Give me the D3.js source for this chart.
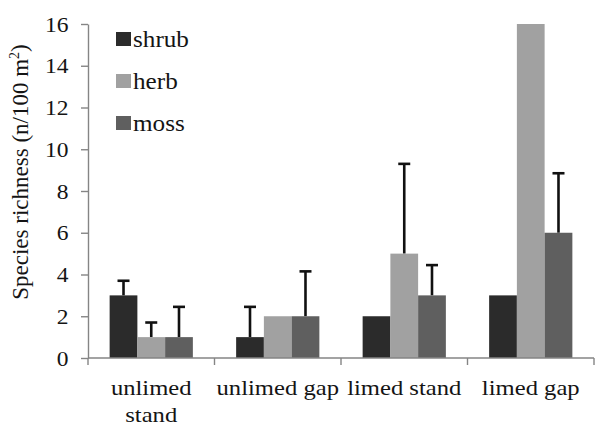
<!DOCTYPE html>
<html>
<head>
<meta charset="utf-8">
<script src="https://cdn.jsdelivr.net/npm/d3@7"></script>
<style>
  html, body { margin: 0; padding: 0; background: #fff; }
  svg { display: block; }
  text { font-family: "Liberation Serif", "Times New Roman", serif; fill: #141414; }
</style>
</head>
<body>
<svg id="chart" width="595" height="423"></svg>
<script>
// ---- data ----
const categories = ["unlimed stand", "unlimed gap", "limed stand", "limed gap"];
const series = ["shrub", "herb", "moss"];
const shrubValues = [3, 1, 2, 3];
const herbValues = [1, 2, 5, 16];
const mossValues = [1, 2, 3, 6];
const shrubErrTop = [3.7, 2.45, null, null];
const herbErrTop = [1.7, null, 9.3, null];
const mossErrTop = [2.45, 4.15, 4.45, 8.85];
const yTicks = [0, 2, 4, 6, 8, 10, 12, 14, 16];
const yLabel = "Species richness (n/100 m";

// ---- layout ----
const plot = { left: 88, right: 594, top: 24, bottom: 358 };
const colors = { shrub: "#2b2b2b", herb: "#a1a1a1", moss: "#5f5f5f" };
const SX = 1.12; // horizontal stretch of the reference typography

const values = { shrub: shrubValues, herb: herbValues, moss: mossValues };
const errs = { shrub: shrubErrTop, herb: herbErrTop, moss: mossErrTop };

const svg = d3.select("#chart");

const x0 = d3.scaleBand().domain(categories).range([plot.left, plot.right]).paddingInner(0).paddingOuter(0);
const x1 = d3.scaleBand().domain(series).range([0, x0.bandwidth()]).paddingInner(0).paddingOuter(0.78);
const y = d3.scaleLinear().domain([0, 16]).range([plot.bottom, plot.top]);

const rows = [];
categories.forEach((c, i) => series.forEach(s => rows.push({ c, s, v: values[s][i], e: errs[s][i] })));

// error bars (upper half only)
const eg = svg.append("g");
rows.filter(d => d.e != null).forEach(d => {
  const cx = x0(d.c) + x1(d.s) + x1.bandwidth() / 2;
  eg.append("line").attr("x1", cx).attr("x2", cx).attr("y1", y(d.v)).attr("y2", y(d.e))
    .attr("stroke", "#111").attr("stroke-width", 2.6);
  eg.append("line").attr("x1", cx - 6).attr("x2", cx + 6).attr("y1", y(d.e)).attr("y2", y(d.e))
    .attr("stroke", "#111").attr("stroke-width", 2.6);
});

svg.append("g").selectAll("rect").data(rows).join("rect")
  .attr("x", d => x0(d.c) + x1(d.s))
  .attr("width", x1.bandwidth())
  .attr("y", d => y(d.v))
  .attr("height", d => y(0) - y(d.v))
  .attr("fill", d => colors[d.s]);

// y axis
const yAxis = svg.append("g").attr("transform", `translate(${plot.left},0)`)
  .call(d3.axisLeft(y).tickValues(yTicks).tickSize(7).tickSizeOuter(0).tickPadding(12));
yAxis.select(".domain").attr("stroke", "#858585").attr("stroke-width", 1.4);
yAxis.selectAll(".tick line").attr("stroke", "#858585").attr("stroke-width", 1.4);
yAxis.selectAll(".tick text")
  .attr("font-size", 21).attr("fill", "#141414")
  .attr("x", -19.5 / SX).attr("transform", `scale(${SX},1)`).attr("dy", "0.34em");

// x axis
const xg = svg.append("g");
xg.append("line").attr("x1", plot.left).attr("x2", plot.right).attr("y1", y(0)).attr("y2", y(0))
  .attr("stroke", "#858585").attr("stroke-width", 1.4);
const bounds = categories.map(c => x0(c)).concat([x0.range()[1]]);
xg.selectAll("line.b").data(bounds).join("line").attr("class", "b")
  .attr("x1", d => d).attr("x2", d => d).attr("y1", y(0)).attr("y2", y(0) + 7)
  .attr("stroke", "#858585").attr("stroke-width", 1.4);

const wrapLabels = { "unlimed stand": ["unlimed", "stand"] };
categories.forEach(c => {
  const lines = wrapLabels[c] || [c];
  const cx = x0(c) + x0.bandwidth() / 2;
  const t = xg.append("g").attr("transform", `translate(${cx},395) scale(${SX},1)`);
  lines.forEach((ln, i) => {
    t.append("text").attr("text-anchor", "middle").attr("y", i * 27.5)
      .attr("font-size", 22).text(ln);
  });
});

// y label
const yl = svg.append("text")
  .attr("transform", `translate(27.5,172) rotate(-90)`)
  .attr("text-anchor", "middle").attr("font-size", 23);
yl.append("tspan").text(yLabel);
yl.append("tspan").attr("font-size", 14).attr("dy", "-0.6em").text("2");
yl.append("tspan").attr("dy", "0.35em").text(")");

// legend
const lg = svg.append("g");
series.forEach((s, i) => {
  const yy = 32 + i * 42;
  lg.append("rect").attr("x", 116).attr("y", yy).attr("width", 15).attr("height", 14).attr("fill", colors[s]);
  lg.append("g").attr("transform", `translate(133,${yy + 14.5}) scale(${SX},1)`)
    .append("text").attr("font-size", 22.5).text(s);
});
</script>
</body>
</html>
